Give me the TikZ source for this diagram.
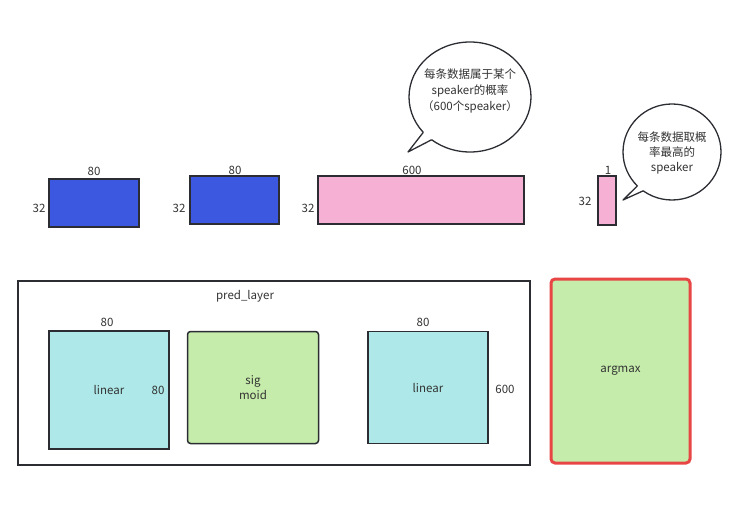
\documentclass[tikz,border=0pt]{standalone}
\usepackage{fontspec}
\setmainfont{Noto Sans CJK SC}
\usetikzlibrary{positioning,calc}

\definecolor{inblue}{HTML}{3D58E0}
\definecolor{probpink}{HTML}{F5B0D4}
\definecolor{lincyan}{HTML}{AEE8E8}
\definecolor{actgreen}{HTML}{C5ECAA}
\definecolor{maxred}{HTML}{E84545}
\definecolor{edgegray}{HTML}{2B2D33}
\definecolor{txtgray}{HTML}{333333}

\tikzset{
  tensor/.style={draw=edgegray, line width=1.5pt, inner sep=0pt},
  layerbox/.style={draw=edgegray, line width=1.5pt, inner sep=0pt, text=txtgray,
    align=center, font=\fontsize{11.5}{15}\selectfont},
  dimlabel/.style={text=txtgray, inner sep=0pt, font=\fontsize{11.5}{13}\selectfont},
  bubble/.style={draw=edgegray, line width=1.3pt},
  notetext/.style={text=txtgray, align=center, inner sep=0pt},
}

\begin{document}
\begin{tikzpicture}[x=1pt,y=-1pt]
    \useasboundingbox (0,0) rectangle (751,510);

    % tensor shapes, top row
    \node[tensor, fill=inblue, minimum width=90pt, minimum height=48pt] (inA) at (94,203) {};
    \node[tensor, fill=inblue, minimum width=89pt, minimum height=48pt] (inB) at (234.5,200) {};
    \node[tensor, fill=probpink, minimum width=206pt, minimum height=48pt] (prob) at (421,200) {};
    \node[tensor, fill=probpink, minimum width=18pt, minimum height=49pt] (pick) at (607,200.5) {};
    \node[dimlabel] (inAw) at (94,171) {80};
    \node[dimlabel] (inAh) at (39,208) {32};
    \node[dimlabel] (inBw) at (235,170) {80};
    \node[dimlabel] (inBh) at (179,208) {32};
    \node[dimlabel] (probw) at (412,170) {600};
    \node[dimlabel] (probh) at (308,208) {32};
    \node[dimlabel] (pickw) at (608,170) {1};
    \node[dimlabel] (pickh) at (585,201) {32};

    % speech bubbles
    \coordinate (bubA) at (470,97);
    \coordinate (tipA) at (408,152);
    \coordinate (tailA1) at ($(bubA)+(140:61 and 55)$);
    \coordinate (tailA2) at ($(bubA)+(129:61 and 55)$);
    \draw[bubble, fill=white] (bubA) ellipse [x radius=61, y radius=55];
    \fill[white] (tailA1) -- (tipA) -- (tailA2) -- ($(bubA)+(134:52 and 46)$) -- cycle;
    \draw[bubble, line join=round] (tailA1) -- (tipA) -- (tailA2);
    \node[notetext, font=\fontsize{11.5}{16}\selectfont] (noteA) at (470,91)
        {每条数据属于某个\\speaker的概率\\（600个speaker）};

    \coordinate (bubB) at (672,152);
    \coordinate (tipB) at (623,200);
    \coordinate (tailB1) at ($(bubB)+(135:49 and 48)$);
    \coordinate (tailB2) at ($(bubB)+(126:49 and 48)$);
    \draw[bubble, fill=white] (bubB) ellipse [x radius=49, y radius=48];
    \fill[white] (tailB1) -- (tipB) -- (tailB2) -- ($(bubB)+(130:40 and 39)$) -- cycle;
    \draw[bubble, line join=round] (tailB1) -- (tipB) -- (tailB2);
    \node[notetext, font=\fontsize{11.5}{15}\selectfont] (noteB) at (672,153)
        {每条数据取概\\率最高的\\speaker};

    % pred_layer and argmax
    \node[draw=edgegray, line width=1.3pt, minimum width=512pt, minimum height=184pt] (pred) at (274,373) {};
    \node[dimlabel] (predname) at (245,296) {pred\_layer};
    \node[layerbox, fill=lincyan, minimum width=120pt, minimum height=118pt] (linA) at (109,390) {linear};
    \node[layerbox, fill=actgreen, rounded corners=3pt, minimum width=131pt, minimum height=112pt] (sig) at (253,387.5) {sig\\moid};
    \node[layerbox, fill=lincyan, minimum width=120pt, minimum height=112pt] (linB) at (428,387.5) {linear};
    \node[dimlabel] (linAw) at (107,322) {80};
    \node[dimlabel] (linAh) at (158,390) {80};
    \node[dimlabel] (linBw) at (423,322) {80};
    \node[dimlabel] (linBh) at (505,389) {600};
    \node[layerbox, draw=maxred, line width=3pt, fill=actgreen, rounded corners=4pt,
        minimum width=139pt, minimum height=184pt] (argmax) at (620.5,371) {argmax};
\end{tikzpicture}
\end{document}
